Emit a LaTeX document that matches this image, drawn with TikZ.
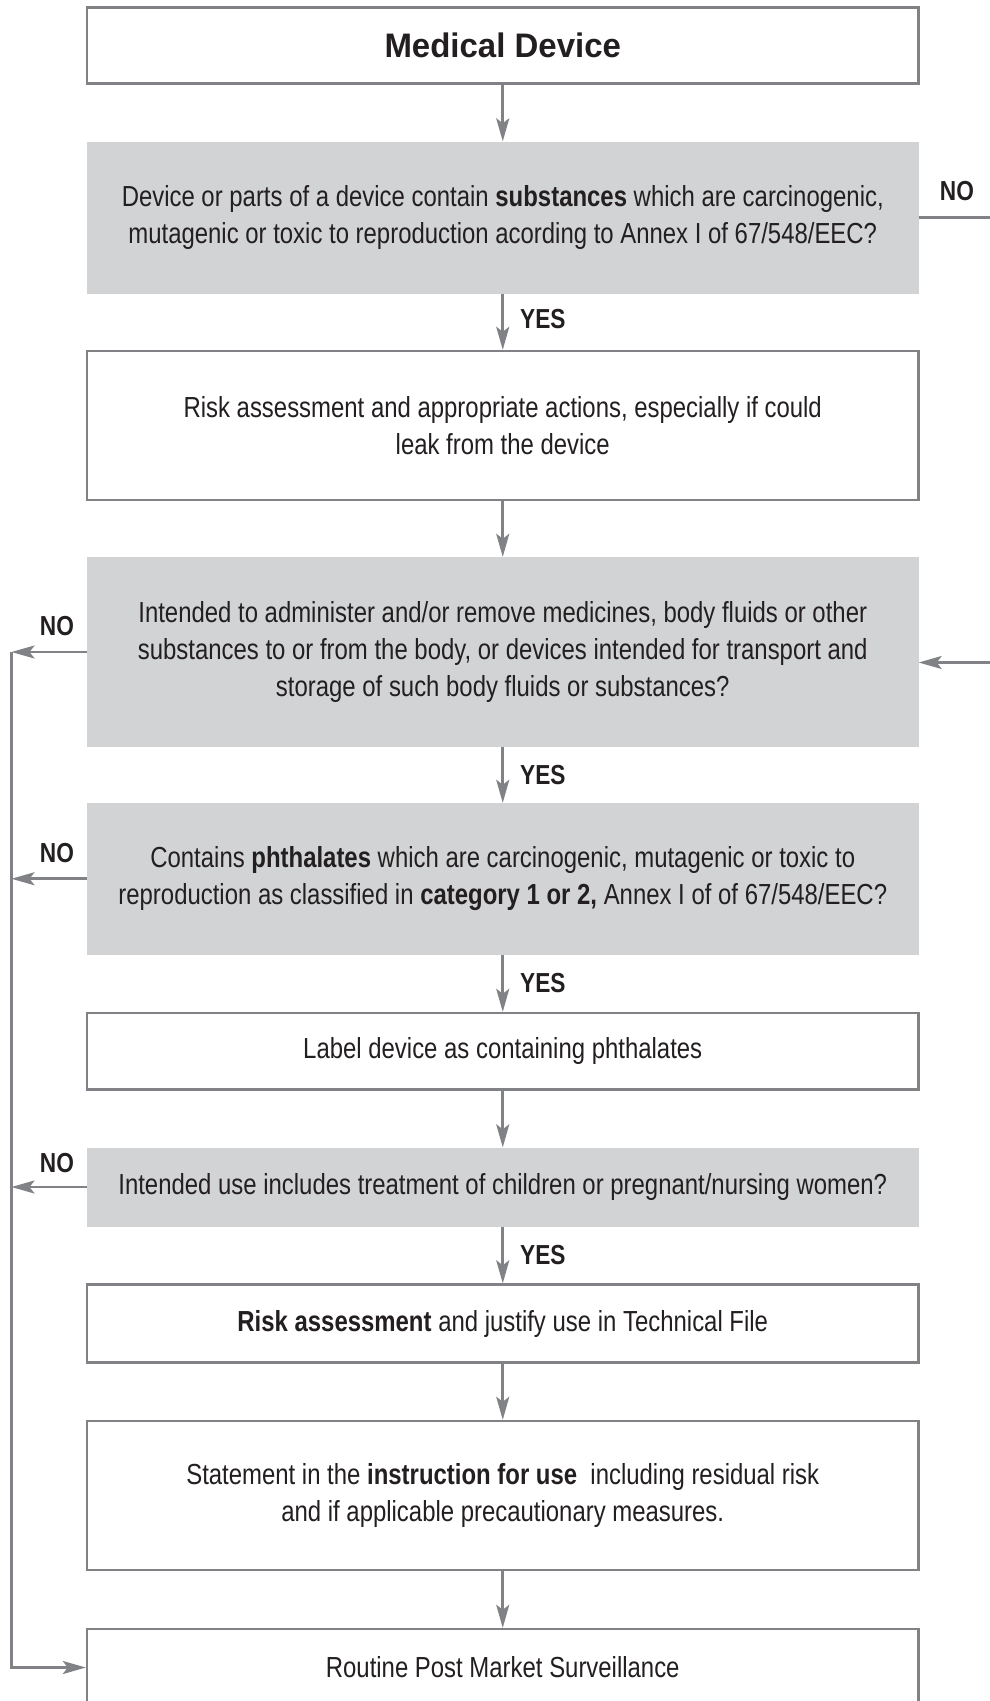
\documentclass[tikz,border=0pt]{standalone}
\usepackage{fontspec}
\setmainfont{Liberation Sans}[FakeStretch=0.825]
\newfontfamily\headfont{Liberation Sans}[FakeStretch=0.97]
\usetikzlibrary{arrows.meta}
\definecolor{linegray}{HTML}{808285}
\definecolor{boxgray}{HTML}{D1D3D4}
\definecolor{txt}{HTML}{231F20}
\newcommand\bodyfont{\fontsize{29}{37}\selectfont}
\newcommand\lblfont{\fontsize{27.5}{30}\selectfont\bfseries}
\tikzset{
  box/.style={draw=linegray, line width=2.4pt, fill=white, minimum width=831.5pt,
    inner sep=0pt, align=center, font=\bodyfont, text=txt},
  qbox/.style={fill=boxgray, minimum width=831.5pt, inner sep=0pt, align=center,
    font=\bodyfont, text=txt},
  conn/.style={draw=linegray, line width=2.6pt, -{Stealth[length=23pt,width=13pt,inset=5pt]}},
  plain/.style={draw=linegray, line width=2.6pt},
  lbl/.style={font=\lblfont, text=txt, inner sep=0pt},
}
\begin{document}
\begin{tikzpicture}[x=1pt,y=-1pt]
\useasboundingbox (0,0) rectangle (990,1701);
\fill[white] (0,0) rectangle (990,1701);
\clip (0,0) rectangle (990,1701);

\node[box, minimum height=76pt] (b1) at (502.75,45.5)
  {\headfont\fontsize{34}{40}\selectfont\bfseries Medical Device};
\node[qbox, minimum height=152pt] (b2) at (502.75,217.5)
  {Device or parts of a device contain \textbf{substances} which are carcinogenic,\\
   mutagenic or toxic to reproduction acording to Annex I of 67/548/EEC?};
\node[box, minimum height=149pt] (b3) at (502.75,425.5)
  {Risk assessment and appropriate actions, especially if could\\ leak from the device};
\node[qbox, minimum height=190pt] (b4) at (502.75,652)
  {Intended to administer and/or remove medicines, body fluids or other\\
   substances to or from the body, or devices intended for transport and\\
   storage of such body fluids or substances?};
\node[qbox, minimum height=151.5pt] (b5) at (502.75,878.75)
  {Contains \textbf{phthalates} which are carcinogenic, mutagenic or toxic to\\
   reproduction as classified in \textbf{category 1 or 2,} Annex I of of 67/548/EEC?};
\node[box, minimum height=76.5pt] (b6) at (502.75,1051.25)
  {Label device as containing phthalates};
\node[qbox, minimum height=79pt] (b7) at (502.75,1187)
  {Intended use includes treatment of children or pregnant/nursing women?};
\node[box, minimum height=78pt] (b8) at (502.75,1323.5)
  {\textbf{Risk assessment} and justify use in Technical File};
\node[box, minimum height=149pt] (b9) at (502.75,1495.5)
  {Statement in the \textbf{instruction for use}\ \ including residual risk\\
   and if applicable precautionary measures.};
\node[box, minimum height=77pt] (b10) at (502.75,1667.5)
  {Routine Post Market Surveillance};

% vertical connectors
\draw[conn] (b1) -- (b2);
\draw[conn] (b2) -- (b3);
\draw[conn] (b3) -- (b4);
\draw[conn] (b4) -- (b5);
\draw[conn] (b5) -- (b6);
\draw[conn] (b6) -- (b7);
\draw[conn] (b7) -- (b8);
\draw[conn] (b8) -- (b9);
\draw[conn] (b9) -- (b10);

% YES labels
\node[lbl, anchor=west] (y1) at (520,319.5) {YES};
\node[lbl, anchor=west] (y2) at (520,775) {YES};
\node[lbl, anchor=west] (y3) at (520,983) {YES};
\node[lbl, anchor=west] (y4) at (520,1255) {YES};

% right side NO
\coordinate (r2) at (995,217.5);
\coordinate (r4) at (995,662.5);
\draw[plain] (b2.east) -- (r2);
\draw[conn] (r4) -- (b4.east |- r4);
\node[lbl] (n1) at (957,191) {NO};

% left side NO
\coordinate (l4) at (11.5,652);
\coordinate (l5) at (11.5,878.75);
\coordinate (l7) at (11.5,1187);
\draw[conn] (b4.west) -- (l4);
\draw[conn] (b5.west) -- (l5);
\draw[conn] (b7.west) -- (l7);
\draw[conn] (l4) |- (b10.west);
\node[lbl] (n2) at (57,626.5) {NO};
\node[lbl] (n3) at (57,853) {NO};
\node[lbl] (n4) at (57,1163) {NO};
\end{tikzpicture}
\end{document}
